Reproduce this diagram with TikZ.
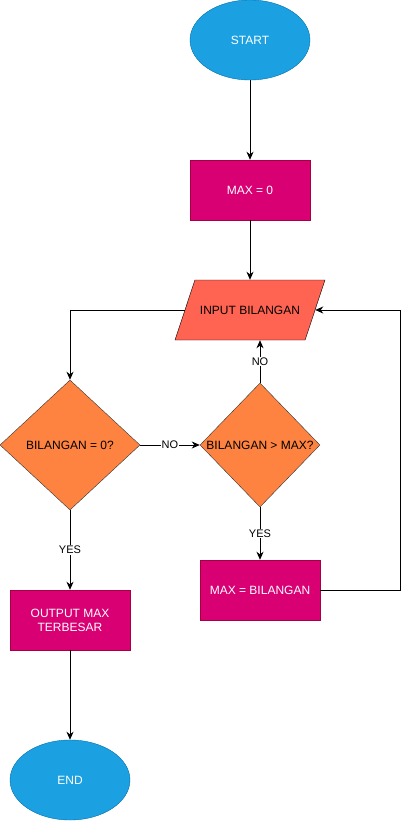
\documentclass[tikz,border=0pt]{standalone}
\usepackage[x11names]{xcolor}
\usepackage{tikz}
\usepackage{fontspec}
\setmainfont{Liberation Sans}
\usetikzlibrary{arrows.meta}
\usetikzlibrary{shapes.geometric}
\definecolor{termblue}{HTML}{1BA1E2}
\definecolor{termedge}{HTML}{006EAF}
\definecolor{procpink}{HTML}{D80073}
\definecolor{procedge}{HTML}{A50040}
\definecolor{iored}{HTML}{FF6352}
\definecolor{decorange}{HTML}{FF8340}

\begin{document}
\begin{tikzpicture}[x=1pt, y=-1pt, font=\fontsize{12}{14}\selectfont,
        terminal/.style={ellipse, draw=termedge, fill=termblue, text=white, minimum width=120pt, minimum height=80pt, inner sep=0pt},
        process/.style={rectangle, draw=procedge, fill=procpink, text=white, minimum width=120pt, minimum height=60pt, inner sep=0pt, align=center},
        io/.style={trapezium, trapezium left angle=71.6, trapezium right angle=108.4, trapezium stretches body, draw=black, fill=iored, minimum width=150pt, minimum height=60pt, inner xsep=0pt, inner ysep=25.7pt},
        decision/.style={diamond, draw=black!80, fill=decorange, inner sep=0pt},
        arr/.style={line width=1pt, -{Stealth[length=8pt, width=7pt, inset=2.5pt]}},
        lbl/.style={fill=white, font=\fontsize{11}{13}\selectfont, inner sep=1pt}]
    \useasboundingbox (0,0) rectangle (409,821);
    % boxes
    \node[terminal] (start) at (250,40) {START};
    \node[process] (max0) at (250,190) {MAX = 0};
    \node[io] (input) at (250,310) {INPUT BILANGAN};
    \node[decision, minimum width=140pt, minimum height=130pt] (iszero) at (70,445) {BILANGAN = 0?};
    \node[decision, minimum width=120pt, minimum height=124pt] (isbig) at (260,445) {BILANGAN > MAX?};
    \node[process] (setmax) at (260,590) {MAX = BILANGAN};
    \node[process] (output) at (70,620) {OUTPUT MAX\\TERBESAR};
    \node[terminal] (finish) at (70,780) {END};
    \coordinate (back) at (400,590);
    % arrows
    \draw[arr] (start) -- (max0);
    \draw[arr] (max0) -- (input);
    \draw[arr] (input.left side) -| (iszero.north);
    \draw[arr] (iszero) -- node[lbl] {NO} (isbig);
    \draw[arr] (isbig.north) -- node[lbl] {NO} (isbig.north |- input.south);
    \draw[arr] (isbig) -- node[lbl] {YES} (setmax);
    \draw[arr] (iszero) -- node[lbl] {YES} (output);
    \draw[arr] (output) -- (finish);
    \draw[arr] (setmax.east) -- (back) |- (input.right side);
\end{tikzpicture}
\end{document}
